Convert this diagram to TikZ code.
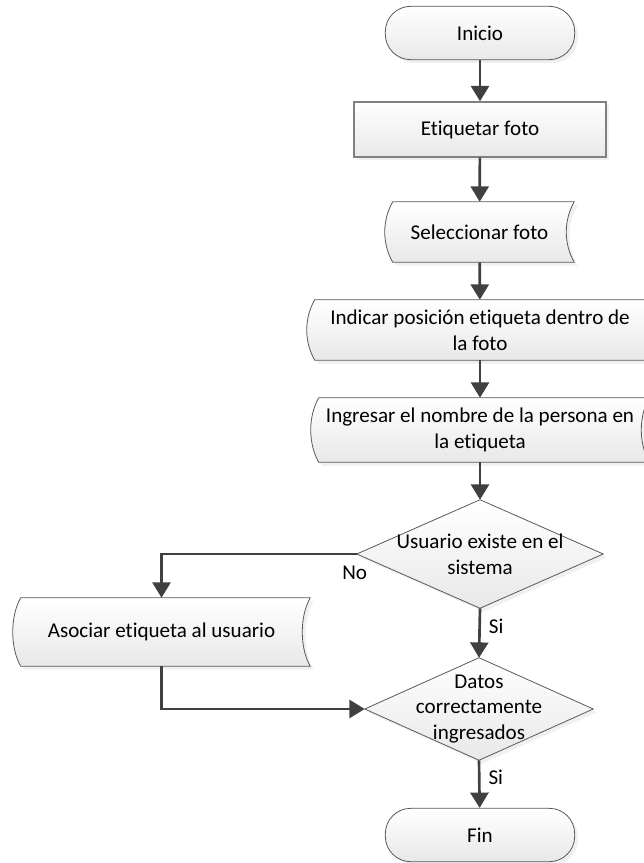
\documentclass[tikz,border=0pt]{standalone}
\usepackage{fontspec}
\setmainfont{Carlito}[Ligatures=NoCommon]
\usetikzlibrary{arrows.meta,shadows,backgrounds,calc}
\newcommand\fs{\fontsize{15.8}{19.2}\selectfont}
\tikzset{
  shapefill/.style={top color=white, bottom color=black!9, draw=black!65, line width=0.6pt,
    drop shadow={shadow xshift=2.5pt, shadow yshift=-2.5pt, opacity=0.12}},
  termbox/.style={shapefill, rectangle, rounded corners=19pt, minimum width=142pt,
    minimum height=40pt, inner sep=0pt, align=center},
  procbox/.style={shapefill, rectangle, draw=black!50, line width=1.1pt, minimum width=189pt,
    minimum height=41.25pt, inner sep=0pt, align=center},
  txtbox/.style={inner sep=0pt, align=center},
  flow/.style={draw=black!75, line width=2pt, -{Triangle[width=13.5pt,length=11.5pt]}},
  lbl/.style={inner sep=0pt}
}
\newcommand\storedpath[1]{%
  \path[shapefill] let \p1=(#1.north west), \p2=(#1.south east) in
  (\x1+6pt,\y1) -- (\x2,\y1) .. controls (\x2-8pt,\y1-13.9pt) and (\x2-8pt,\y2+13.9pt) .. (\x2,\y2)
  -- (\x1+6pt,\y2) .. controls (\x1-2pt,\y2+13.9pt) and (\x1-2pt,\y1-13.9pt) .. cycle;}
\newcommand\diamondpath[1]{%
  \path[shapefill] (#1.north) -- (#1.east) -- (#1.south) -- (#1.west) -- cycle;}
\begin{document}
\begin{tikzpicture}[x=0.75pt,y=-0.75pt,font=\fs]
\useasboundingbox (0,0) rectangle (643,863);

\node[termbox] (inicio) at (480,33) {Inicio};
\node[procbox] (etiq) at (480,129.5) {Etiquetar foto};
\node[txtbox, minimum width=141.75pt, minimum height=45pt] (selec) at (479.5,232) {Seleccionar foto};
\node[txtbox, minimum width=259.5pt, minimum height=45pt] (indicar) at (480,330)
  {Indicar posición etiqueta dentro de\\la foto};
\node[txtbox, minimum width=253.5pt, minimum height=48pt] (ingresar) at (480,430)
  {Ingresar el nombre de la persona en\\la etiqueta};
\node[txtbox, minimum width=184.5pt, minimum height=81pt] (d1) at (480,554)
  {Usuario existe en el\\sistema};
\node[txtbox, minimum width=222.75pt, minimum height=51pt] (asoc) at (161.5,632)
  {Asociar etiqueta al usuario};
\node[txtbox, minimum width=171pt, minimum height=76.5pt] (d2) at (479,709)
  {Datos\\correctamente\\ingresados};
\node[termbox] (fin) at (480,835) {Fin};

\begin{scope}[on background layer]
  \storedpath{selec}
  \storedpath{indicar}
  \storedpath{ingresar}
  \storedpath{asoc}
  \diamondpath{d1}
  \diamondpath{d2}
\end{scope}

\draw[flow] (inicio) -- (etiq);
\draw[flow] (etiq) -- (selec);
\draw[flow] (selec) -- (indicar);
\draw[flow] (indicar) -- (ingresar);
\draw[flow] (ingresar) -- (d1.north);
\draw[flow] (d1.south) -- node[lbl, pos=0.36, right=6pt] {Si} (d2.north);
\draw[flow] (d2.south) -- node[lbl, pos=0.36, right=6pt] {Si} (fin);
\draw[flow] (d1.west) -- node[lbl, pos=0, xshift=-1.5pt, yshift=-14pt] {No} ++(0,0) -| (asoc.north);
\draw[flow] (asoc.south) |- (d2.west);
\end{tikzpicture}
\end{document}
